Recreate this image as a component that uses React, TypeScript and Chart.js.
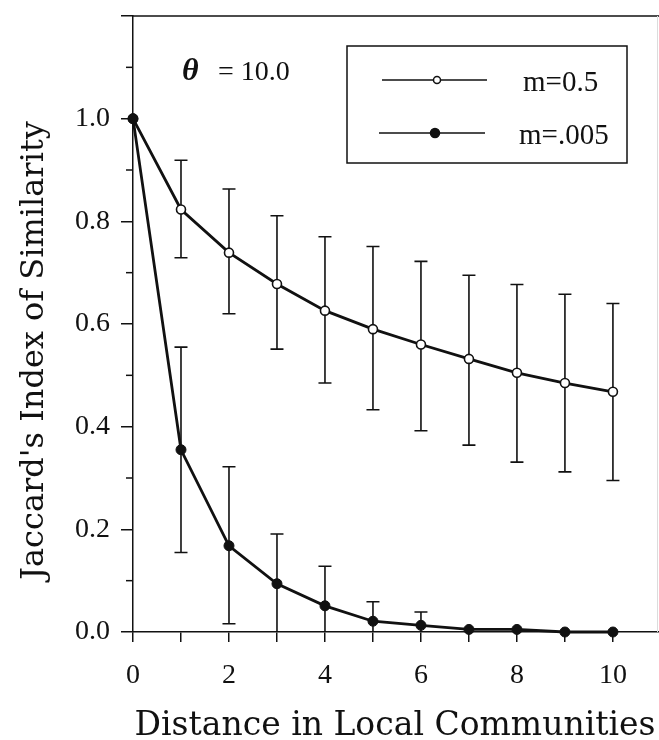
import React, { useEffect, useRef } from 'react';
import { Chart, registerables } from 'chart.js';

Chart.register(...registerables);

// ---------- data ----------
const distances = [0, 1, 2, 3, 4, 5, 6, 7, 8, 9, 10];
const m05Mean = [1.0, 0.823, 0.739, 0.678, 0.626, 0.59, 0.56, 0.532, 0.505, 0.485, 0.468];
const m05Upper = [null, 0.919, 0.863, 0.811, 0.77, 0.751, 0.722, 0.695, 0.677, 0.658, 0.64];
const m05Lower = [null, 0.729, 0.62, 0.551, 0.485, 0.433, 0.392, 0.364, 0.331, 0.312, 0.295];
const m005Mean = [1.0, 0.355, 0.168, 0.094, 0.051, 0.021, 0.013, 0.005, 0.005, 0.0, 0.0];
const m005Upper = [null, 0.555, 0.322, 0.191, 0.128, 0.059, 0.039, null, null, null, null];
const m005Lower = [null, 0.155, 0.016, 0.0, 0.0, 0.0, 0.0, null, null, null, null];

const xTickValues = [0, 1, 2, 3, 4, 5, 6, 7, 8, 9, 10];
const xLabelValues = [0, 2, 4, 6, 8, 10];
const yTickValues = [0, 0.2, 0.4, 0.6, 0.8, 1.0, 1.2];
const yLabelValues = [0, 0.2, 0.4, 0.6, 0.8, 1.0];
const yMinorTickValues = [0.1, 0.3, 0.5, 0.7, 0.9, 1.1];

const seriesLabels = ['m=0.5', 'm=.005'];
const thetaSymbol = 'θ';
const thetaText = '= 10.0';
const xTitle = 'Distance in Local Communities';
const yTitle = "Jaccard's Index of Similarity";

const SERIF = '"Liberation Serif", serif';
const TITLE_SERIF = '"DejaVu Serif", serif';
const INK = '#111';

const zeroPadding = (axis: any) => {
  axis.paddingTop = 0;
  axis.paddingBottom = 0;
  axis.paddingLeft = 0;
  axis.paddingRight = 0;
};

const decorPlugin = {
  id: 'decor',
  beforeDatasetsDraw(chart: any) {
    const { ctx } = chart;
    const x = chart.scales.x;
    const y = chart.scales.y;
    ctx.save();
    ctx.strokeStyle = INK;
    ctx.lineWidth = 1.6;
    const drawBars = (up: (number | null)[], lo: (number | null)[]) => {
      distances.forEach((d, i) => {
        const u = up[i];
        const l = lo[i];
        if (u == null || l == null) return;
        const px = x.getPixelForValue(d);
        const pu = y.getPixelForValue(u);
        const pl = y.getPixelForValue(l);
        ctx.beginPath();
        ctx.moveTo(px, pu);
        ctx.lineTo(px, pl);
        ctx.moveTo(px - 6.5, pu);
        ctx.lineTo(px + 6.5, pu);
        if (l > 0) {
          ctx.moveTo(px - 6.5, pl);
          ctx.lineTo(px + 6.5, pl);
        }
        ctx.stroke();
      });
    };
    drawBars(m05Upper, m05Lower);
    drawBars(m005Upper, m005Lower);
    ctx.restore();
  },
  afterDraw(chart: any) {
    const { ctx, chartArea } = chart;
    const y = chart.scales.y;
    ctx.save();
    ctx.strokeStyle = INK;
    ctx.lineWidth = 1.5;
    // top frame
    ctx.beginPath();
    ctx.moveTo(chartArea.left, y.getPixelForValue(1.2));
    ctx.lineTo(chartArea.right, y.getPixelForValue(1.2));
    ctx.stroke();
    // minor ticks
    yMinorTickValues.forEach((v) => {
      const py = y.getPixelForValue(v);
      ctx.beginPath();
      ctx.moveTo(chartArea.left - 7, py);
      ctx.lineTo(chartArea.left, py);
      ctx.stroke();
    });
    // faint right edge
    ctx.strokeStyle = '#dcdcdc';
    ctx.lineWidth = 1;
    ctx.beginPath();
    ctx.moveTo(chartArea.right - 1.5, chartArea.top);
    ctx.lineTo(chartArea.right - 1.5, chartArea.bottom);
    ctx.stroke();

    // axis titles
    ctx.fillStyle = INK;
    ctx.font = `33px ${TITLE_SERIF}`;
    ctx.textAlign = 'center';
    ctx.textBaseline = 'alphabetic';
    ctx.fillText(xTitle, 395, 735);
    ctx.font = `32px ${TITLE_SERIF}`;
    ctx.save();
    ctx.translate(43, 350.5);
    ctx.rotate(-Math.PI / 2);
    ctx.fillText(yTitle, 0, 0);
    ctx.restore();

    // theta annotation
    ctx.textAlign = 'left';
    ctx.textBaseline = 'middle';
    ctx.font = `italic bold 32px ${SERIF}`;
    ctx.fillText(thetaSymbol, 182, 72);
    ctx.font = `28px ${SERIF}`;
    ctx.fillText(thetaText, 218, 73);

    // legend
    ctx.strokeStyle = INK;
    ctx.lineWidth = 1.5;
    ctx.strokeRect(347, 46, 280, 117);
    const entries = [
      { label: seriesLabels[0], y: 80, x1: 382, x2: 487, mx: 437, r: 3.5, fill: '#fff', tx: 523 },
      { label: seriesLabels[1], y: 133, x1: 379, x2: 485, mx: 435, r: 4.5, fill: INK, tx: 519 },
    ];
    entries.forEach((e) => {
      ctx.beginPath();
      ctx.moveTo(e.x1, e.y);
      ctx.lineTo(e.x2, e.y);
      ctx.stroke();
      ctx.beginPath();
      ctx.arc(e.mx, e.y, e.r, 0, Math.PI * 2);
      ctx.fillStyle = e.fill;
      ctx.fill();
      ctx.stroke();
      ctx.fillStyle = INK;
      ctx.font = `29px ${SERIF}`;
      ctx.textAlign = 'left';
      ctx.textBaseline = 'middle';
      ctx.fillText(e.label, e.tx, e.y + 3);
    });
    ctx.restore();
  },
};

export default function App() {
  const canvasRef = useRef<HTMLCanvasElement | null>(null);

  useEffect(() => {
    if (!canvasRef.current) return;
    const chart = new Chart(canvasRef.current, {
      type: 'line',
      data: {
        datasets: [
          {
            label: seriesLabels[1],
            data: distances.map((d, i) => ({ x: d, y: m005Mean[i] })),
            borderColor: INK,
            borderWidth: 2.8,
            pointRadius: 5,
            pointBackgroundColor: INK,
            pointBorderColor: INK,
            pointBorderWidth: 1,
            tension: 0,
            clip: false,
            order: 0,
          },
          {
            label: seriesLabels[0],
            data: distances.map((d, i) => ({ x: d, y: m05Mean[i] })),
            borderColor: INK,
            borderWidth: 2.8,
            pointRadius: 4.5,
            pointBackgroundColor: '#fff',
            pointBorderColor: INK,
            pointBorderWidth: 1.6,
            tension: 0,
            clip: false,
            order: 1,
          },
        ],
      },
      options: {
        animation: false,
        responsive: false,
        events: [],
        layout: { autoPadding: false, padding: { top: 16, left: 0, right: 0, bottom: 0 } },
        plugins: {
          legend: { display: false },
          tooltip: { enabled: false },
          title: { display: false },
        },
        scales: {
          x: {
            type: 'linear',
            min: 0,
            max: 10.96,
            afterBuildTicks: (axis: any) => {
              axis.ticks = xTickValues.map((v) => ({ value: v }));
            },
            afterFit: (axis: any) => {
              axis.height = 108;
              zeroPadding(axis);
            },
            grid: {
              drawOnChartArea: false,
              drawTicks: true,
              tickLength: 10,
              color: INK,
              lineWidth: 1.5,
            },
            border: { display: true, color: INK, width: 1.5 },
            ticks: {
              autoSkip: false,
              maxRotation: 0,
              padding: 17,
              color: INK,
              font: { family: SERIF, size: 28 },
              callback: (v: any) => (xLabelValues.includes(Number(v)) ? String(v) : ''),
            },
          },
          y: {
            type: 'linear',
            min: 0,
            max: 1.2,
            afterBuildTicks: (axis: any) => {
              axis.ticks = yTickValues.map((v) => ({ value: v }));
            },
            afterFit: (axis: any) => {
              axis.width = 133;
              zeroPadding(axis);
            },
            grid: {
              drawOnChartArea: false,
              drawTicks: true,
              tickLength: 12,
              color: INK,
              lineWidth: 1.5,
            },
            border: { display: true, color: INK, width: 1.5 },
            ticks: {
              autoSkip: false,
              padding: 11,
              color: INK,
              font: { family: SERIF, size: 28 },
              callback: (v: any) =>
                yLabelValues.some((l) => Math.abs(l - Number(v)) < 1e-6) ? Number(v).toFixed(1) : '',
            },
          },
        },
      },
      plugins: [decorPlugin],
    } as any);
    return () => chart.destroy();
  }, []);

  return (
    <div style={{ position: 'absolute', left: 0, top: 0, width: 659, height: 740, background: '#fff' }}>
      <canvas ref={canvasRef} width={659} height={740} style={{ display: 'block' }} />
    </div>
  );
}
